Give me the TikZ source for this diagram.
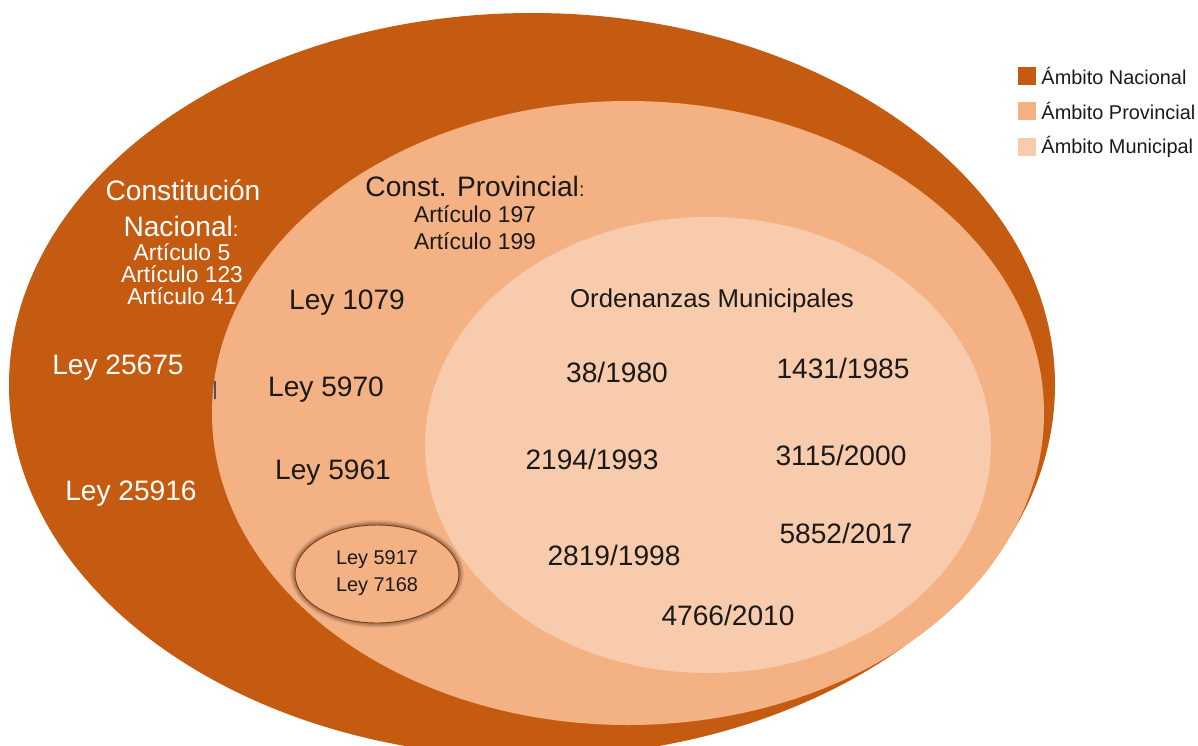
\documentclass[tikz,border=0pt]{standalone}
\usepackage{xcolor}
\usepackage{fontspec}
\setmainfont{Liberation Sans}
\usepackage{tikz}

\definecolor{nacional}{HTML}{C55A11}
\definecolor{provincial}{HTML}{F4B183}
\definecolor{municipal}{HTML}{F8CBAD}
\definecolor{borde}{HTML}{843C0C}
\definecolor{marca}{HTML}{44546A}
\definecolor{texto}{HTML}{1A1A1A}

\tikzset{
  grande/.style={font=\fontsize{24}{28}\selectfont, text=texto, inner sep=0pt},
  medio/.style={font=\fontsize{19.5}{23}\selectfont, text=texto, inner sep=0pt},
  chico/.style={font=\fontsize{17}{20}\selectfont, text=texto, inner sep=0pt},
  blanco/.style={text=white},
  muestra/.style={minimum width=18*0.03cm, minimum height=18*0.03cm, inner sep=0pt},
}

\begin{document}
\begin{tikzpicture}[x=0.03cm, y=-0.03cm]
		\clip (0,0) rectangle (1198,745);
		% ambitos
		\fill[nacional] (532,385) ellipse [x radius=523, y radius=372];
		\fill[provincial] (628,413) ellipse [x radius=416, y radius=312];
		\fill[municipal] (708,445) ellipse [x radius=283, y radius=228];
		\draw[marca, line width=1.3pt] (215,381) -- (215,399);

		% nacional
		\draw (183,190) node[grande, blanco] (cn1) {Constitución};
		\draw (181,226) node[grande, blanco] (cn2) {Nacional{\fontsize{17}{20}\selectfont:}};
		\draw (182,252) node[medio, blanco] (cn3) {Artículo 5};
		\draw (182,274) node[medio, blanco] (cn4) {Artículo 123};
		\draw (182,296) node[medio, blanco] (cn5) {Artículo 41};
		\draw (118,368) node[grande, blanco] (l25675) {Ley 25675};
		\draw (131,494) node[grande, blanco] (l25916) {Ley 25916};

		% provincial
		\draw (475,186) node[grande] (cp1) {Const. Provincial{\fontsize{17}{20}\selectfont:}};
		\draw (475,214) node[medio] (cp2) {Artículo 197};
		\draw (475,241) node[medio] (cp3) {Artículo 199};
		\draw (347,303) node[grande] (l1079) {Ley 1079};
		\draw (326,390) node[grande] (l5970) {Ley 5970};
		\draw (333,473) node[grande] (l5961) {Ley 5961};
		\foreach \s/\o in {5/0.05, 4/0.07, 3/0.09, 2/0.11}
			\fill[black, opacity=\o] (377,574) ellipse [x radius=82+\s, y radius=49+\s];
		\draw[borde, fill=provincial, line width=0.8pt] (377,574) ellipse [x radius=82, y radius=49];
		\draw (377,560) node[chico] (l5917) {Ley 5917};
		\draw (377,587) node[chico] (l7168) {Ley 7168};

		% municipal
		\draw (712,301) node[font=\fontsize{22}{26}\selectfont, text=texto, inner sep=0pt] (om) {Ordenanzas Municipales};
		\draw (617,372) node[grande] (o1) {38/1980};
		\draw (843,368) node[grande] (o2) {1431/1985};
		\draw (592,459) node[grande] (o3) {2194/1993};
		\draw (841,455) node[grande] (o4) {3115/2000};
		\draw (614,555) node[grande] (o5) {2819/1998};
		\draw (846,533) node[grande] (o6) {5852/2017};
		\draw (728,615) node[grande] (o7) {4766/2010};

		% leyenda
		\draw (1027,75.5) node[muestra, fill=nacional] (sn) {};
		\draw (1027,111) node[muestra, fill=provincial] (sp) {};
		\draw (1027,147) node[muestra, fill=municipal] (sm) {};
		\draw (sn.east) ++(5,0) node[chico, anchor=west] (tn) {Ámbito Nacional};
		\draw (sp.east) ++(5,0) node[chico, anchor=west] (tp) {Ámbito Provincial};
		\draw (sm.east) ++(5,0) node[chico, anchor=west] (tm) {Ámbito Municipal};
	\end{tikzpicture}
\end{document}
